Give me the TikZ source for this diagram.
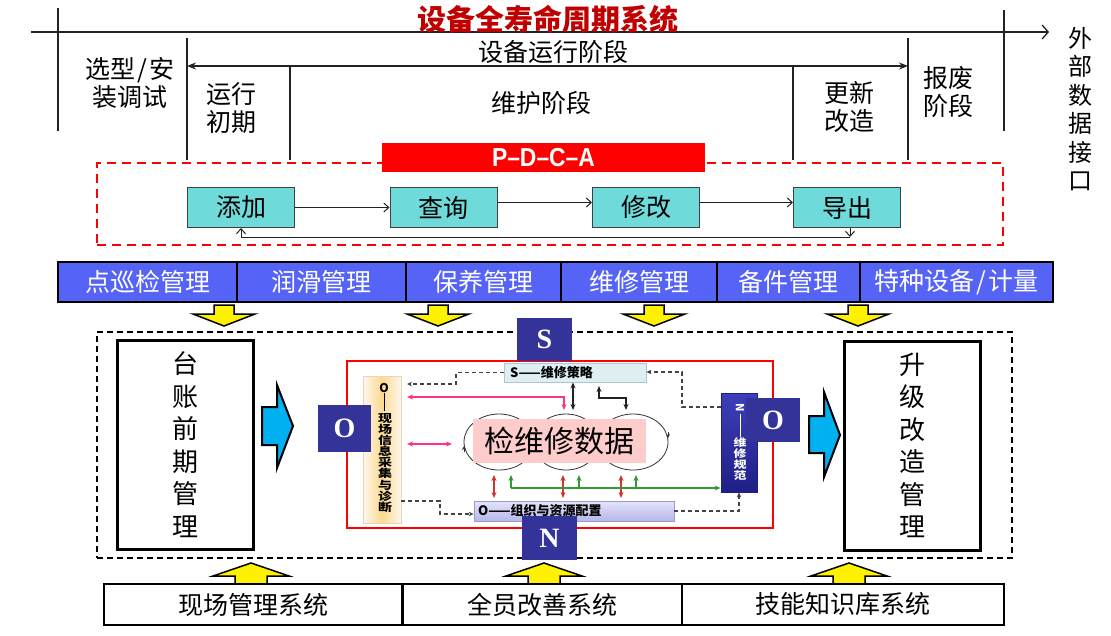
\documentclass[tikz,border=0pt]{standalone}
\usepackage{fontspec}
\setmainfont{Noto Sans CJK SC}
\newfontfamily\serifbf{Liberation Serif}
\newfontfamily\arialf{Liberation Sans}
\usetikzlibrary{arrows.meta,calc}
\newcommand\myfs[1]{\fontsize{#1}{#1}\selectfont}
\definecolor{titlered}{HTML}{C00000}
\definecolor{pdcacyan}{HTML}{6EDADA}
\definecolor{rowblue}{HTML}{5563F6}
\definecolor{indigo}{HTML}{333399}
\definecolor{blockcyan}{HTML}{00B0F0}
\definecolor{pinkline}{HTML}{FF3385}
\definecolor{darkred}{HTML}{CC3333}
\definecolor{greenline}{HTML}{339933}
\definecolor{datapink}{HTML}{FFCCCC}
\definecolor{lineg}{HTML}{222222}
\definecolor{sbarfill}{HTML}{DDEFF2}
\definecolor{sbarborder}{HTML}{AFC6CB}
\definecolor{xcedge}{HTML}{FFF8EE}
\definecolor{xcmid}{HTML}{FBD990}
\definecolor{xcborder}{HTML}{E6D6BE}
\definecolor{zztop}{HTML}{E4E4FA}
\definecolor{zzbot}{HTML}{B6B6EA}
\definecolor{zzborder}{HTML}{9A9ACF}
\definecolor{gftop}{HTML}{3E3EBA}
\definecolor{gfbot}{HTML}{1F1F86}
\definecolor{ellcol}{HTML}{333333}
\newcommand\ydown[2]{\draw[yarrow] (#1,#2) ++(-10,0) -- ++(20,0) -- ++(0,9) -- ++(21,0) -- ++(-31,12) -- ++(-31,-12) -- ++(21,0) -- cycle;}
\newcommand\yup[2]{\draw[yarrow] (#1,#2) -- ++(38,13) -- ++(-22,0) -- ++(0,9) -- ++(-32,0) -- ++(0,-9) -- ++(-22,0) -- cycle;}
\begin{document}
\begin{tikzpicture}[x=1pt,y=-1pt,
  tl/.style={draw=lineg, line width=1.3pt},
  barb/.style={draw=lineg, line width=1pt, -{Straight Barb[length=5pt,width=9pt]}},
  stage/.style={font=\fontsize{25}{28.5}\selectfont, align=center, inner sep=0pt},
  cbox/.style={draw=black!75, line width=1pt, fill=pdcacyan, minimum width=107pt, minimum height=40pt, inner sep=0pt, font=\myfs{25}},
  rowbox/.style={draw=black, line width=2.5pt, fill=rowblue, minimum height=40pt, inner sep=0pt, text=white, font=\myfs{25}},
  yarrow/.style={draw=black, line width=1.5pt, fill=yellow, line join=miter},
  cyarrow/.style={draw=black, line width=2pt, fill=blockcyan, line join=miter},
  tallbox/.style={draw=black, line width=3pt, minimum width=136pt, minimum height=209pt, inner sep=0pt, align=center, font=\fontsize{26}{32.5}\selectfont},
  letterbox/.style={fill=indigo, inner sep=0pt, text=white, font=\serifbf\bfseries\myfs{28}},
  bartxt/.style={anchor=west, font=\bfseries\myfs{13}, inner sep=0pt},
  vtxt/.style={font=\bfseries\fontsize{14}{14}\selectfont, align=center, inner sep=0pt},
  pinkarr/.style={draw=pinkline, line width=1.2pt, {Stealth[length=6pt,width=5pt]}-{Stealth[length=6pt,width=5pt]}},
  blkarr/.style={draw=lineg, line width=1.2pt, {Stealth[length=6pt,width=5pt]}-{Stealth[length=6pt,width=5pt]}},
  redarr/.style={draw=darkred, line width=1.2pt, {Stealth[length=6pt,width=5pt]}-{Stealth[length=6pt,width=5pt]}},
  grnarr/.style={draw=greenline, line width=1.2pt, -{Stealth[length=6pt,width=5pt]}},
  dasharr/.style={draw=lineg!85, line width=1.2pt, dash pattern=on 4pt off 3pt, -{Stealth[length=5pt,width=4.5pt]}},
  botbox/.style={draw=black, line width=2.5pt, fill=white, minimum height=41pt, inner sep=0pt, font=\myfs{25}}
]
\useasboundingbox (0,0) rectangle (1111,635);

% ---------- timeline ----------
\coordinate (tlS) at (31,32);
\coordinate (tlE) at (1049,32);
\draw[tl, -{Straight Barb[length=6pt,width=14pt]}] (tlS) -- (tlE);
\draw[tl] (58,8) -- (58,131);
\draw[tl] (1004,10) -- (1004,131);
\draw[tl] (187,38) -- (187,160);
\draw[tl] (908,38) -- (908,160);
\coordinate (opL) at (187,66);
\coordinate (opR) at (908,66);
\draw[tl, {Stealth[length=9pt,width=7pt]}-{Stealth[length=9pt,width=7pt]}] (opL) -- (opR);
\draw[tl] (290,66) -- (290,160);
\draw[tl] (793,66) -- (793,160);

\node[font=\bfseries\myfs{29}, text=titlered, inner sep=0pt] (title) at (548,19) {设备全寿命周期系统};
\node[stage] (s6) at (553,52) {设备运行阶段};
\node[stage] (s1) at (130,83) {选型\hspace{2pt}/\hspace{2pt}安\\装调试};
\node[stage] (s2) at (231,108) {运行\\初期};
\node[stage] (s3) at (541,103) {维护阶段};
\node[stage] (s4) at (849,107) {更新\\改造};
\node[stage] (s5) at (948,92) {报废\\阶段};
\node[font=\fontsize{24}{28.4}\selectfont, align=center, inner sep=0pt] (ext) at (1080,109) {外\\部\\数\\据\\接\\口};

% ---------- PDCA ----------
\node[draw=red, line width=2.2pt, dash pattern=on 9pt off 6pt, minimum width=906pt, minimum height=82pt] (pdcabox) at (550,204) {};
\node[fill=red, minimum width=323pt, minimum height=29pt, inner sep=0pt, text=white, font=\arialf\bfseries\myfs{26}] (pdcat) at (543.5,157.5) {\scalebox{0.88}[1]{P–D–C–A}};
\node[cbox] (tj) at (241,207.5) {添加};
\node[cbox] (cx) at (443.5,207.5) {查询};
\node[cbox] (xg) at (646,207.5) {修改};
\node[cbox] (dc) at (847,207.5) {导出};
\draw[barb] (tj.east) -- (cx.west);
\draw[barb] ([yshift=5pt]cx.east) -- ([yshift=5pt]xg.west);
\draw[barb] ([yshift=5pt]xg.east) -- ([yshift=5pt]dc.west);
\coordinate (fb1) at (850,237);
\coordinate (fb2) at (241,237);
\draw[barb] (dc.south -| fb1) -- (fb1);
\draw[barb] (fb1) -- (fb2) -- (tj.south -| fb2);

% ---------- module row ----------
\node[rowbox, minimum width=179pt] (m1) at (147.5,282) {点巡检管理};
\node[rowbox, minimum width=169pt] (m2) at (321.5,282) {润滑管理};
\node[rowbox, minimum width=155pt] (m3) at (483.5,282) {保养管理};
\node[rowbox, minimum width=156pt] (m4) at (639,282) {维修管理};
\node[rowbox, minimum width=143pt] (m5) at (788.5,282) {备件管理};
\node[rowbox, minimum width=193pt] (m6) at (956.5,282) {特种设备\hspace{2pt}/\hspace{2pt}计量};

\ydown{224}{305}
\ydown{438}{305}
\ydown{654}{305}
\ydown{858}{305}

% ---------- main dashed area ----------
\node[draw=black, line width=1.6pt, dash pattern=on 6pt off 4pt, minimum width=915pt, minimum height=226pt] (mainbox) at (554.5,445) {};
\node[tallbox] (lbox) at (185,444.5) {台\\账\\前\\期\\管\\理};
\node[tallbox] (rbox) at (912,445.5) {升\\级\\改\\造\\管\\理};
\draw[cyarrow] (262,407) -- (277,407) -- (277,385) -- (293,426) -- (277,468) -- (277,445) -- (262,445) -- cycle;
\draw[cyarrow] (809,416) -- (824,416) -- (824,392) -- (840,435) -- (824,477) -- (824,453) -- (809,453) -- cycle;

\node[draw=red, line width=2.5pt, minimum width=426pt, minimum height=167pt] (redr) at (560,444.5) {};

% cloud of ellipses
\draw[ellcol, line width=0.8pt] (499,442) ellipse [x radius=35pt, y radius=28pt];
\draw[ellcol, line width=0.8pt] (566,442) ellipse [x radius=33pt, y radius=28pt];
\draw[ellcol, line width=0.8pt] (633,442) ellipse [x radius=35pt, y radius=28pt];
\draw[ellcol, line width=0.8pt, -{Stealth[length=4pt,width=4pt]}] (464,452) -- (464,446);
\draw[ellcol, line width=0.8pt, -{Stealth[length=4pt,width=4pt]}] (668,432) -- (668,438);
\node[fill=datapink, minimum width=173pt, minimum height=44pt, inner sep=0pt, font=\myfs{30}] (data) at (559.5,441) {检维修数据};

% bars
\node[draw=sbarborder, fill=sbarfill, line width=0.8pt, minimum width=142pt, minimum height=19pt, inner sep=0pt] (sbar) at (575,372.5) {};
\node[bartxt] (stxt) at (510,373) {S——维修策略};
\node[draw=xcborder, left color=xcedge, right color=xcedge, middle color=xcmid, line width=0.8pt, minimum width=38pt, minimum height=147pt, inner sep=0pt] (xc) at (382,449.5) {};
\node[font=\bfseries\myfs{12}, inner sep=0pt] (xco) at (384,388) {O};
\draw[black, line width=1pt] (xco.south) -- (384,411);
\begin{scope}[shift={(385,463)}, yscale=0.79, transform shape]
  \node[vtxt] (xctxt) at (0,0) {现\\场\\信\\息\\采\\集\\与\\诊\\断};
\end{scope}
\node[draw=zzborder, top color=zztop, bottom color=zzbot, line width=0.8pt, minimum width=200pt, minimum height=20pt, inner sep=0pt] (zz) at (574,511) {};
\node[bartxt] (zztxt) at (478,511) {O——组织与资源配置};
\node[draw=gfbot, top color=gftop, bottom color=gfbot, line width=0.8pt, minimum width=36pt, minimum height=99pt, inner sep=0pt] (gf) at (739,442.5) {};
\node[rotate=-90, font=\bfseries\myfs{11}, text=white, inner sep=0pt] (gfn) at (740,408) {N};
\draw[white, line width=0.9pt] (740,414) -- (740,437);
\begin{scope}[shift={(740,459)}, yscale=0.79, transform shape]
  \node[vtxt, text=white, font=\bfseries\fontsize{13}{14}\selectfont] (gftxt) at (0,0) {维\\修\\规\\范};
\end{scope}

% connectors inside
\coordinate (pk1) at (407,397);
\coordinate (pk2) at (564,410);
\draw[pinkarr] (pk1) -- (pk2 |- pk1) -- (pk2);
\coordinate (pk3) at (407,444);
\coordinate (pk4) at (452,444);
\draw[pinkarr] (pk3) -- (pk4);
\coordinate (bk1) at (573,410);
\draw[blkarr] (sbar.south -| bk1) -- (bk1);
\coordinate (bk2) at (599,386);
\coordinate (bk3) at (626,410);
\draw[blkarr] (bk2) -- (599,398) -- (626,398) -- (bk3);
\coordinate (ds1) at (407,384);
\draw[dasharr] (sbar.west) -- (456,372.5) -- (456,384) -- (ds1);
\draw[dasharr] (gf.west |- 0,407) -- (682,407) -- (682,372) -- (sbar.east |- 0,372);
\draw[dasharr] (xc.east |- 0,501) -- (440,501) -- (440,514) -- (zz.west |- 0,514);
\draw[dasharr] (zz.east) -- (739,511) -- (gf.south);
\foreach \xx in {494,563,621} {
  \draw[redarr] (\xx,475) -- (\xx,498);
}
\coordinate (gr1) at (511,475);
\draw[grnarr] (511,488) -- (gr1);
\draw[grnarr] (511,488) -- (gf.west |- 0,488);
\draw[grnarr] (579,488) -- (579,475);
\draw[grnarr] (636,488) -- (636,475);

% letter boxes
\node[letterbox, minimum width=55pt, minimum height=43pt] (lS) at (544.5,339) {S};
\node[letterbox, minimum width=53pt, minimum height=47pt] (lO1) at (344.5,428.5) {O};
\node[letterbox, minimum width=54pt, minimum height=44pt] (lO2) at (773,420) {O};
\node[letterbox, minimum width=55pt, minimum height=44pt] (lN) at (549.5,538) {N};

% ---------- bottom ----------
\yup{251}{563}
\yup{544}{563}
\yup{849}{563}
\node[botbox, minimum width=299pt] (b1) at (253.5,604.5) {现场管理系统};
\node[botbox, minimum width=280pt] (b2) at (542.5,604.5) {全员改善系统};
\node[botbox, minimum width=322pt] (b3) at (843,604.5) {技能知识库系统};
\end{tikzpicture}
\end{document}
